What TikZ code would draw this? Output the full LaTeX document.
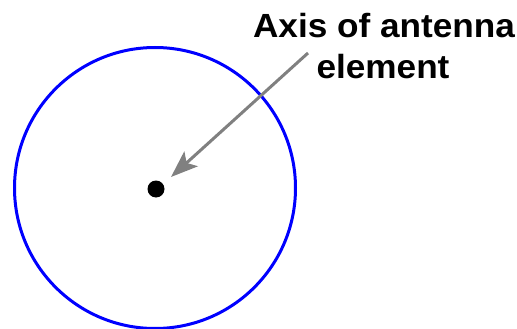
\documentclass[tikz,border=0pt]{standalone}
\usepackage{fontspec}
\setmainfont{Liberation Sans}
\usetikzlibrary{arrows.meta}
\newcommand{\widetext}[1]{\scalebox{1.05}[1]{#1}}
\begin{document}
\begin{tikzpicture}[x=1pt,y=-1pt,
  lbl/.style={font=\fontsize{33.5}{40}\selectfont\bfseries, inner sep=0pt, anchor=base},
  ring/.style={draw=blue, line width=3pt},
  pointer/.style={draw=gray, line width=3pt, -{Stealth[length=27pt,width=20pt,inset=6pt]}}]
\useasboundingbox (0,0) rectangle (517,329);
\draw[ring] (155,188) circle (140.5);
\node[circle, fill=black, minimum size=17pt, inner sep=0pt] (dot) at (156,189) {};
\node[lbl] (t1) at (384,38) {\widetext{Axis of antenna}};
\node[lbl] (t2) at (383,79) {\widetext{element}};
\coordinate (start) at (308,53);
\coordinate (tip) at (171,177);
\draw[pointer] (start) -- (tip);
\end{tikzpicture}
\end{document}
